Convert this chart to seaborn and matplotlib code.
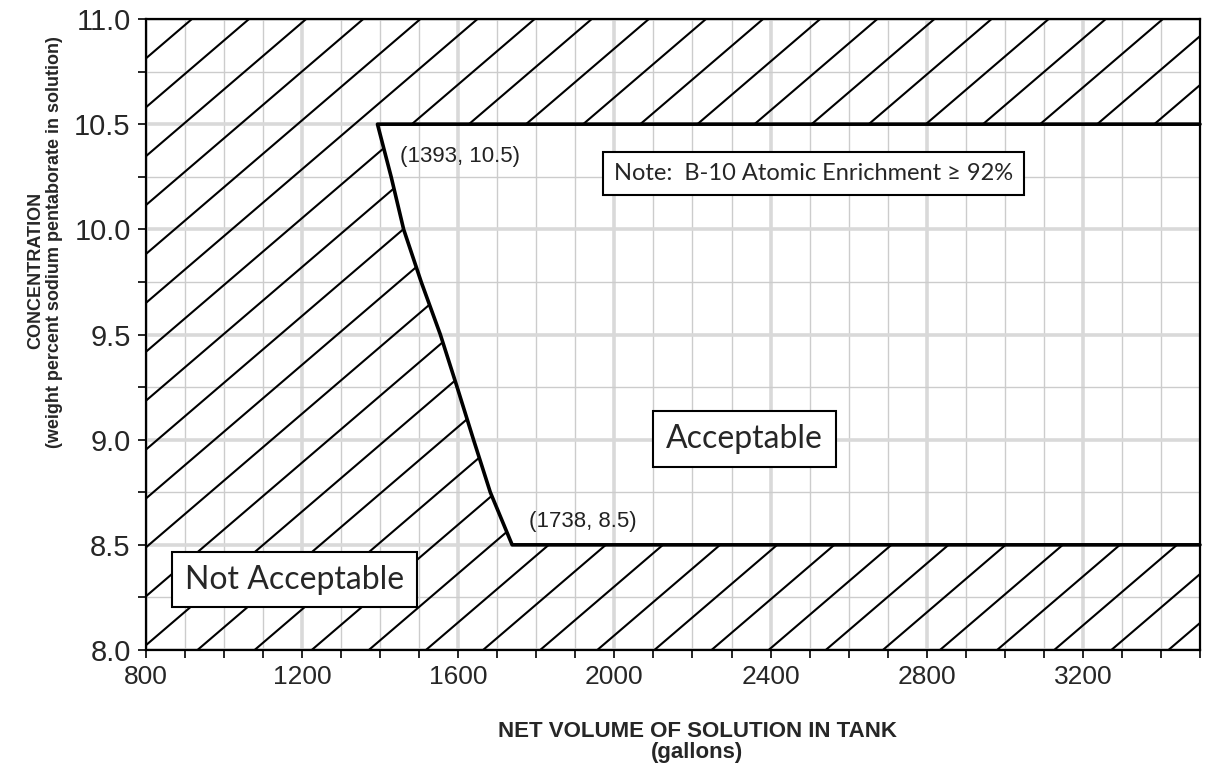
import numpy as np
import seaborn as sns
from matplotlib import pyplot as plt
from matplotlib.patches import Polygon
from matplotlib.collections import LineCollection
from matplotlib.ticker import MultipleLocator, FormatStrFormatter

# limit curve of the acceptable region (gallons, weight percent)
volume = [3500, 1393, 1428, 1460, 1505, 1554, 1597, 1639, 1682, 1738, 3500]
concentration = [10.5, 10.5, 10.25, 10.0, 9.75, 9.5, 9.25, 9.0, 8.75, 8.5, 8.5]

x_limits = [800, 3500]
y_limits = [8.0, 11.0]
x_ticks = [800, 1200, 1600, 2000, 2400, 2800, 3200]

corner_labels = ["(1393, 10.5)", "(1738, 8.5)"]
note_text = "Note:  B-10 Atomic Enrichment \u2265 92%"

sns.set_style("white")
plt.rcParams["font.family"] = ["Liberation Sans", "DejaVu Sans"]

fig = plt.figure(figsize=(12.07, 7.70), dpi=100)
ax = fig.add_axes([0.12096, 0.15584, 0.8732, 0.81948])

# hatched "not acceptable" area = axes box minus the acceptable region
hatch_poly = [(x_limits[0], y_limits[0]), (x_limits[1], y_limits[0]), (x_limits[1], concentration[-1])]
hatch_poly += list(zip(volume[::-1], concentration[::-1]))[1:-1]
hatch_poly += [(x_limits[1], concentration[0]), (x_limits[1], y_limits[1]), (x_limits[0], y_limits[1])]
clip_patch = Polygon(hatch_poly, closed=True, facecolor="none", edgecolor="none")
ax.add_patch(clip_patch)

slope = 0.001589
spacing = 0.2325
intercepts = 10.813 - spacing * np.arange(0, 31)
segments = [[(x_limits[0], b), (x_limits[1], b + slope * (x_limits[1] - x_limits[0]))] for b in intercepts]
hatch = LineCollection(segments, colors="black", linewidths=1.5, zorder=2)
ax.add_collection(hatch)
hatch.set_clip_path(clip_patch)

sns.lineplot(x=volume, y=concentration, sort=False, estimator=None,
             color="black", linewidth=2.6, ax=ax, zorder=4, clip_on=False)

ax.set_xlim(x_limits)
ax.set_ylim(y_limits)
ax.set_xticks(x_ticks)
ax.xaxis.set_minor_locator(MultipleLocator(100))
ax.yaxis.set_major_locator(MultipleLocator(0.5))
ax.yaxis.set_minor_locator(MultipleLocator(0.25))
ax.yaxis.set_major_formatter(FormatStrFormatter("%.1f"))

ax.set_axisbelow(True)
ax.grid(which="major", color="#d9d9d9", linewidth=2.6)
ax.grid(which="minor", color="#cccccc", linewidth=1.0)

for side in ["left", "right", "top", "bottom"]:
    ax.spines[side].set_visible(True)
    ax.spines[side].set_color("black")
    ax.spines[side].set_linewidth(1.6)

ax.tick_params(which="both", direction="out", length=6, width=1.2, color="black",
               bottom=True, left=True)
ax.tick_params(axis="x", which="major", labelsize=19, pad=5)
ax.tick_params(axis="y", which="major", labelsize=21, pad=5)

ax.set_xlabel("NET VOLUME OF SOLUTION IN TANK\n(gallons)", fontsize=16,
              fontweight="bold", linespacing=1.0)
ax.xaxis.set_label_coords(0.523, -0.112)
ax.set_ylabel("")

fig.text(36 / 1207, 1 - 270 / 770, "CONCENTRATION", rotation=90, fontsize=13,
         fontweight="bold", ha="center", va="center")
fig.text(55 / 1207, 1 - 242 / 770, "(weight percent sodium pentaborate in solution)",
         rotation=90, fontsize=13, fontweight="bold", ha="center", va="center")

ax.annotate(corner_labels[0], xy=(volume[1], concentration[1]), xytext=(23, -38),
            textcoords="offset pixels", fontsize=16, color="#222222", ha="left", va="baseline")
ax.annotate(corner_labels[1], xy=(volume[-2], concentration[-2]), xytext=(17, 18),
            textcoords="offset pixels", fontsize=16, color="#222222", ha="left", va="baseline")

box = dict(boxstyle="square,pad=0.4", facecolor="white", edgecolor="black", linewidth=1.5)
calibri_like = ["Lato", "DejaVu Sans"]
ax.text(2510, 10.265, note_text, fontsize=17, family=calibri_like, ha="center",
        va="center", bbox=dict(box, boxstyle="square,pad=0.45"), zorder=5)
ax.text(2333, 9.003, "Acceptable", fontsize=23, family=calibri_like, ha="center",
        va="center", bbox=box, zorder=5)
ax.text(1180, 8.335, "Not Acceptable", fontsize=23, family=calibri_like, ha="center",
        va="center", bbox=box, zorder=5)

fig.savefig("out.png", dpi=100)
